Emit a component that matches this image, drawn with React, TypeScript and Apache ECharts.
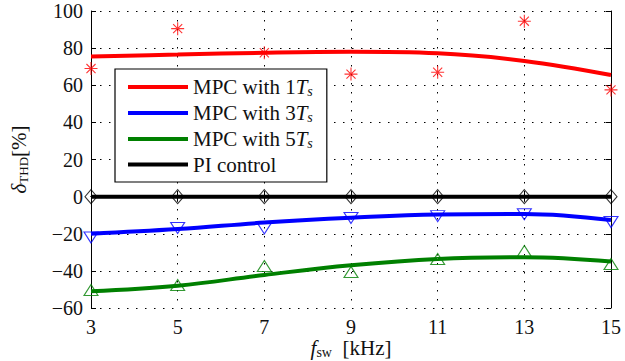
import React, { useEffect, useRef } from "react";
import * as echarts from "echarts";

const xs = [3, 5, 7, 9, 11, 13, 15];
const xTicks = { min: 3, max: 15, step: 2 };
const yTicks = { min: -60, max: 100, step: 20 };

const mpc1Points = [69, 90.5, 77.5, 66, 67, 94.5, 57.5];
const mpc1Fit = [75.5, 76.5, 77.5, 78, 77.2, 73.1, 65.5];
const mpc3Points = [-22, -16.9, -17.1, -11.5, -10.5, -9.5, -13.7];
const mpc3Fit = [-20, -17.5, -14, -11.4, -9.6, -9.3, -12.6];
const mpc5Points = [-50.3, -47.6, -37.4, -40.6, -33.6, -29.3, -36.3];
const mpc5Fit = [-51, -48, -42.2, -37, -33.6, -32.7, -35];
const piPoints = [0, 0, 0, 0, 0, 0, 0];

const legendNames = ["MPC with 1Ts", "MPC with 3Ts", "MPC with 5Ts", "PI control"];
const legendLabels = [
  "{n|MPC with 1}{it|T}{sub|s}",
  "{n|MPC with 3}{it|T}{sub|s}",
  "{n|MPC with 5}{it|T}{sub|s}",
  "{n|PI control}",
];

const FONT = "Liberation Serif";
const ASTERISK = "path://M10 0 L10 20 M0 10 L20 10 M3 3 L17 17 M3 17 L17 3";

const pairs = (vals: number[]) => xs.map((x, i) => [x, vals[i]]);

export default function App() {
  const ref = useRef<HTMLDivElement>(null);
  useEffect(() => {
    if (!ref.current) return;
    const chart = echarts.init(ref.current, null, { renderer: "svg" });
    const fit = (name: string, vals: number[], color: string) => ({
      name,
      type: "line",
      data: pairs(vals),
      smooth: 0.4,
      showSymbol: false,
      lineStyle: { width: 4, color },
      itemStyle: { color },
      z: 3,
    });
    const marks = (vals: number[], color: string, symbol: string, size: any, rotate = 0) => ({
      type: "scatter",
      data: pairs(vals),
      symbol,
      symbolSize: size,
      symbolRotate: rotate,
      itemStyle: { color: "rgba(0,0,0,0)", borderColor: color, borderWidth: 1.1 },
      z: 4,
    });
    const axisText = { fontFamily: FONT, fontSize: 20, color: "#111" };
    chart.setOption({
      animation: false,
      textStyle: { fontFamily: FONT },
      grid: { left: 91, right: 14, top: 11, bottom: 53, outerBoundsMode: "none", containLabel: false },
      legend: {
        data: legendNames,
        orient: "vertical",
        left: 115,
        top: 69,
        icon: "rect",
        itemWidth: 60,
        itemHeight: 4,
        itemGap: 4,
        padding: [7, 14, 7, 13],
        backgroundColor: "#fff",
        borderColor: "#000",
        borderWidth: 1.2,
        borderRadius: 0,
        formatter: (name: string) => legendLabels[legendNames.indexOf(name)],
        textStyle: {
          fontFamily: FONT,
          fontSize: 21,
          color: "#111",
          lineHeight: 20,
          rich: {
            n: { fontFamily: FONT, fontSize: 21, color: "#111", lineHeight: 20 },
            it: { fontFamily: FONT, fontSize: 21, fontStyle: "italic", color: "#111", lineHeight: 20 },
            sub: { fontFamily: FONT, fontSize: 14, fontStyle: "italic", color: "#111", lineHeight: 12, padding: [8, 0, 0, 0] },
          },
        },
      },
      xAxis: [
        {
          type: "value",
          min: xTicks.min,
          max: xTicks.max,
          interval: xTicks.step,
          name: "{it|f}{sub|sw}{n|  [kHz]}",
          nameLocation: "middle",
          nameGap: 30,
          nameMoveOverlap: false,
          nameTextStyle: {
            rich: {
              it: { fontFamily: FONT, fontSize: 21, fontStyle: "italic", color: "#111", lineHeight: 20 },
              sub: { fontFamily: FONT, fontSize: 14, color: "#111", lineHeight: 12, padding: [8, 0, 0, 0] },
              n: { fontFamily: FONT, fontSize: 21, color: "#111", lineHeight: 20 },
            },
          },
          axisLine: { lineStyle: { color: "#000", width: 1 } },
          axisTick: { inside: true, length: 5, lineStyle: { color: "#000" } },
          axisLabel: { ...axisText, margin: 9 },
          splitLine: { show: true, lineStyle: { color: "#000", type: [1.5, 7.5], width: 1 } },
        },
        {
          type: "value",
          position: "top",
          min: xTicks.min,
          max: xTicks.max,
          interval: xTicks.step,
          axisLine: { lineStyle: { color: "#000", width: 1 } },
          axisTick: { inside: true, length: 5, lineStyle: { color: "#000" } },
          axisLabel: { show: false },
          splitLine: { show: false },
        },
      ],
      yAxis: [
        {
          type: "value",
          min: yTicks.min,
          max: yTicks.max,
          interval: yTicks.step,
          name: "{it|δ}{sub|THD}{n|[%]}",
          nameLocation: "middle",
          nameGap: 62,
          nameRotate: 90,
          nameTextStyle: {
            rich: {
              it: { fontFamily: FONT, fontSize: 21, fontStyle: "italic", color: "#111", lineHeight: 20 },
              sub: { fontFamily: FONT, fontSize: 13, color: "#111", lineHeight: 12, padding: [8, 0, 0, 0] },
              n: { fontFamily: FONT, fontSize: 21, color: "#111", lineHeight: 20 },
            },
          },
          axisLine: { lineStyle: { color: "#000", width: 1 } },
          axisTick: { inside: true, length: 5, lineStyle: { color: "#000" } },
          axisLabel: {
            ...axisText,
            margin: 8,
            formatter: (v: number) => (v < 0 ? "\u2212" + Math.abs(v) : String(v)),
          },
          splitLine: { show: true, lineStyle: { color: "#000", type: [1.5, 7.5], width: 1 } },
        },
        {
          type: "value",
          position: "right",
          min: yTicks.min,
          max: yTicks.max,
          interval: yTicks.step,
          axisLine: { show: true, lineStyle: { color: "#000", width: 1 } },
          axisTick: { show: true, inside: true, length: 5, lineStyle: { color: "#000" } },
          axisLabel: { show: false },
          splitLine: { show: false },
        },
      ],
      series: [
        fit(legendNames[0], mpc1Fit, "#ff0000"),
        fit(legendNames[1], mpc3Fit, "#0000ff"),
        fit(legendNames[2], mpc5Fit, "#008000"),
        fit(legendNames[3], piPoints, "#000000"),
        marks(mpc1Points, "#ff0000", ASTERISK, 13),
        marks(mpc3Points, "#0000ff", "triangle", [14, 11], 180),
        marks(mpc5Points, "#008000", "triangle", [14, 11]),
        marks(piPoints, "#000000", "diamond", [12, 14]),
      ],
    });
    return () => chart.dispose();
  }, []);
  return (
    <div
      ref={ref}
      style={{ position: "absolute", left: 0, top: 0, width: 625, height: 361, overflow: "hidden" }}
    />
  );
}
